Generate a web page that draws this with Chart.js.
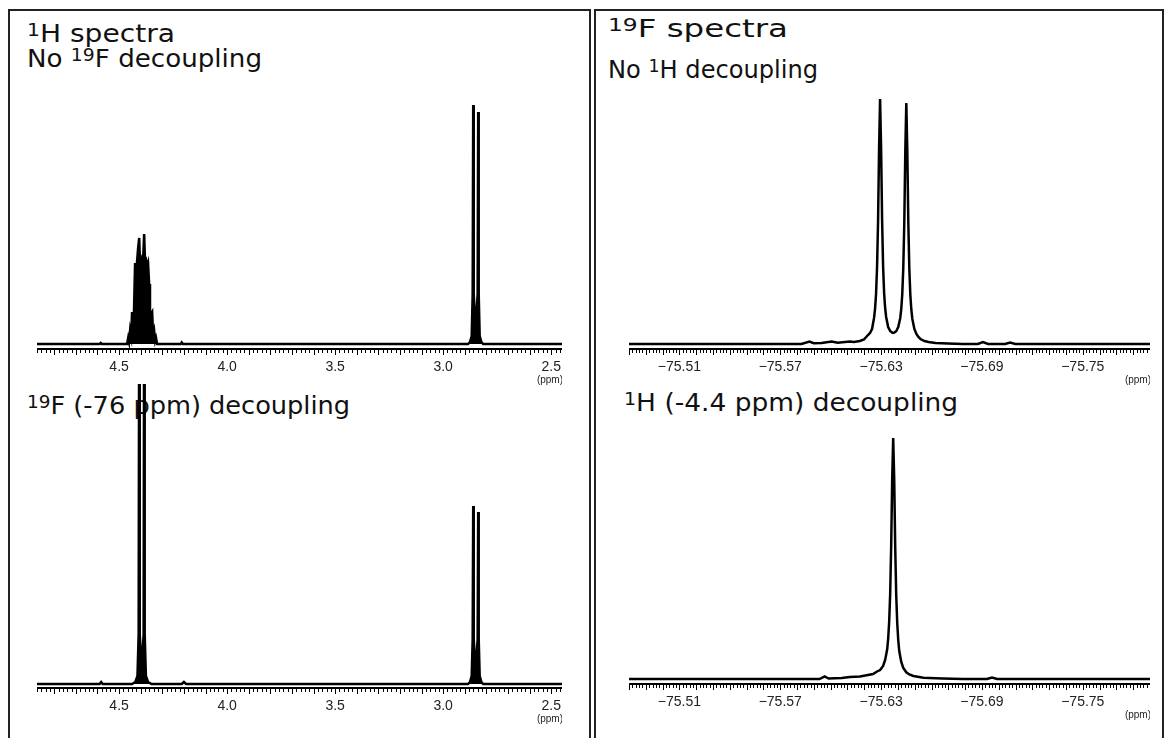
<!DOCTYPE html>
<html>
<head>
<meta charset="utf-8">
<script src="https://cdn.jsdelivr.net/npm/chart.js@4.4.1/dist/chart.umd.min.js"></script>
<style>
  body { margin: 0; background: #fff; width: 1168px; height: 738px; overflow: hidden; position: relative;
         font-family: "DejaVu Sans", sans-serif; }
  .frame { position: absolute; box-sizing: border-box; border: 2px solid #222; border-bottom: none; }
  .lbl { position: absolute; font-size: 24px; line-height: 24px; color: #111; white-space: nowrap; transform-origin: 0 0; }
  .lbl sup { font-size: 0.72em; vertical-align: 0.35em; line-height: 0; }
  canvas { position: absolute; }
</style>
</head>
<body>
<div class="frame" style="left:8px; top:9px; width:583px; height:740px;"></div>
<div class="frame" style="left:594px; top:9px; width:570px; height:740px;"></div>

<div class="lbl" data-w="148" style="left:27px; top:22px;"><sup>1</sup>H spectra</div>
<div class="lbl" data-w="235" style="left:27px; top:47px;">No <sup>19</sup>F decoupling</div>
<div class="lbl" data-w="323" style="left:27px; top:394px;"><sup>19</sup>F (-76 ppm) decoupling</div>
<div class="lbl" data-w="180" style="left:608px; top:17px;"><sup>19</sup>F spectra</div>
<div class="lbl" data-w="210" style="left:608px; top:58px;">No <sup>1</sup>H decoupling</div>
<div class="lbl" data-w="334" style="left:624px; top:391px;"><sup>1</sup>H (-4.4 ppm) decoupling</div>

<canvas id="hCoupled" width="525" height="316" style="left:37px; top:79px;"></canvas>
<canvas id="hDecoupled" width="525" height="350" style="left:37px; top:384px;"></canvas>
<canvas id="fCoupled" width="521" height="316" style="left:629px; top:79px;"></canvas>
<canvas id="fDecoupled" width="521" height="310" style="left:629px; top:420px;"></canvas>

<script>
// 1H spectrum, no 19F decoupling (ppm, height above baseline)
const hCoupledPpm = [4.88, 4.59, 4.585, 4.58, 4.463, 4.458, 4.454, 4.449, 4.444, 4.440, 4.435, 4.431, 4.426, 4.421,
  4.417, 4.412, 4.407, 4.403, 4.398, 4.394, 4.389, 4.384, 4.380, 4.375, 4.370, 4.366, 4.361, 4.357, 4.352, 4.347,
  4.343, 4.338, 4.333, 4.329, 4.324, 4.215, 4.21, 4.205, 2.885, 2.876, 2.868, 2.8635, 2.861, 2.8585, 2.8495,
  2.8405, 2.838, 2.8355, 2.831, 2.823, 2.815, 2.45];
const hCoupledInt = [0, 0, 1, 0, 0, 6, 2, 14, 8, 32, 20, 33, 81, 70,
  82, 96, 106, 80, 84, 78, 84, 110, 82, 84, 78, 81, 60, 32, 30, 32,
  10, 14, 3, 6, 0, 0, 1.5, 0, 0, 2, 8, 50, 239, 50, 14,
  50, 232, 50, 8, 2, 0, 0];

// 1H spectrum, 19F (-76 ppm) decoupled
const hDecPpm = [4.88, 4.59, 4.583, 4.576, 4.44, 4.425, 4.415, 4.4095, 4.407, 4.4045, 4.3955, 4.3865, 4.384, 4.3815,
  4.376, 4.366, 4.35, 4.21, 4.20, 4.19, 2.885, 2.876, 2.868, 2.8635, 2.861, 2.8585, 2.8495, 2.8405, 2.838, 2.8355,
  2.831, 2.823, 2.815, 2.45];
const hDecInt = [0, 0, 2, 0, 0, 2, 8, 50, 420, 50, 14, 50, 420, 50,
  8, 2, 0, 0, 2, 0, 0, 2, 8, 45, 178, 45, 12, 45, 172, 45,
  8, 2, 0, 0];

// 19F spectrum, no 1H decoupling
const fCoupledPpm = [-75.48, -75.5826, -75.5874, -75.5898, -75.5946, -75.6006, -75.6042, -75.6114, -75.6138, -75.6174,
  -75.6198, -75.6222, -75.6234, -75.6246, -75.6258, -75.6264, -75.6270, -75.6276, -75.6282, -75.6288, -75.6294,
  -75.6300, -75.6306, -75.6312, -75.6318, -75.6324, -75.6330, -75.6342, -75.6354, -75.6366, -75.6372, -75.6378,
  -75.6390, -75.6402, -75.6414, -75.6420, -75.6426, -75.6432, -75.6438, -75.6444, -75.6450, -75.6456, -75.6462,
  -75.6468, -75.6474, -75.6480, -75.6486, -75.6498, -75.6510, -75.6522, -75.6534, -75.6558, -75.6582, -75.6624,
  -75.6696, -75.6786, -75.6876, -75.6906, -75.6936, -75.7038, -75.7068, -75.7098, -75.79];
const fCoupledInt = [0, 0, 2.5, 0.8, 1, 2.5, 1.2, 2.5, 2, 3,
  4.5, 9, 11, 15, 26, 35, 50, 77, 123, 196, 245,
  196, 124, 77, 51, 36, 27, 17, 13, 11.4, 11.1, 11.4,
  12.8, 17, 26, 35, 50, 76, 121, 193, 241, 193, 121,
  75, 49, 34, 25, 15, 10, 7, 5, 3, 2, 1,
  0.5, 0, 0, 2, 0, 0, 1.5, 0, 0];

// 19F spectrum, 1H (-4.4 ppm) decoupled
const fDecPpm = [-75.48, -75.5934, -75.5964, -75.5988, -75.6066, -75.6114, -75.6174, -75.6222, -75.6252, -75.6276,
  -75.6294, -75.6312, -75.6324, -75.6336, -75.6342, -75.6348, -75.6354, -75.6360, -75.6366, -75.6372, -75.6378,
  -75.6384, -75.6390, -75.6396, -75.6402, -75.6408, -75.6420, -75.6432, -75.6450, -75.6468, -75.6492, -75.6552,
  -75.6666, -75.6786, -75.6930, -75.6960, -75.6990, -75.79];
const fDecInt = [0, 0, 2.5, 0.5, 1, 2, 2.5, 4, 5, 7.5,
  9, 13, 19, 29.5, 40, 57, 85, 133, 200, 241, 200,
  132, 84, 56, 39, 28, 17, 11, 6.7, 4.5, 3, 1.3,
  0.5, 0, 0, 1.5, 0, 0];

const hTicks = [4.5, 4.0, 3.5, 3.0, 2.5];
const fTicks = [-75.51, -75.57, -75.63, -75.69, -75.75];

// fine comb of tick marks under the axis line, plus the (ppm) unit
function comb(step, majorEvery) {
  return {
    id: 'comb',
    afterDraw(chart) {
      const sx = chart.scales.x, ctx = chart.ctx;
      const lo = Math.min(sx.min, sx.max), hi = Math.max(sx.min, sx.max);
      const first = Math.ceil(lo / step - 1e-9);
      const last = Math.floor(hi / step + 1e-9);
      ctx.save();
      ctx.strokeStyle = '#000';
      ctx.lineWidth = 1;
      ctx.beginPath();
      for (let k = first; k <= last; k++) {
        const px = Math.round(sx.getPixelForValue(k * step)) + 0.5;
        const len = (k % majorEvery === 0) ? 6 : 4;
        ctx.moveTo(px, sx.top);
        ctx.lineTo(px, sx.top + len);
      }
      ctx.stroke();
      ctx.fillStyle = '#222';
      ctx.font = '10px "Liberation Sans"';
      ctx.textAlign = 'right';
      ctx.textBaseline = 'middle';
      ctx.fillText('(ppm)', sx.right + 1, sx.top + 31);
      ctx.restore();
    }
  };
}

function spectrum(id, ppm, inten, o) {
  new Chart(document.getElementById(id), {
    type: 'line',
    data: {
      datasets: [{
        data: ppm.map((p, i) => ({ x: p, y: inten[i] })),
        borderColor: '#000',
        backgroundColor: '#000',
        borderWidth: 2.5,
        fill: o.fill ? 'origin' : false,
        pointRadius: 0,
        tension: 0
      }]
    },
    options: {
      responsive: false,
      animation: false,
      events: [],
      layout: { padding: 0 },
      plugins: { legend: { display: false }, tooltip: { enabled: false } },
      scales: {
        x: {
          type: 'linear',
          reverse: true,
          min: o.min,
          max: o.max,
          afterBuildTicks: s => { s.ticks = o.ticks.map(v => ({ value: v })); },
          afterFit: s => { s.height = 46; s.paddingLeft = 0; s.paddingRight = 0; },
          grid: { display: false, drawTicks: false },
          border: { display: true, color: '#000', width: 2 },
          ticks: {
            padding: 10, color: '#222', autoSkip: false, maxRotation: 0,
            font: { family: 'Liberation Sans', size: 14 },
            callback: o.fmt
          }
        },
        y: { display: false, min: o.ymin, max: o.ymax }
      }
    },
    plugins: [comb(o.step, o.major)]
  });
}

const hFmt = v => v.toFixed(1);
const fFmt = v => '\u2212' + Math.abs(v).toFixed(2);

spectrum('hCoupled', hCoupledPpm, hCoupledInt,
  { fill: true, min: 2.45, max: 4.88, ticks: hTicks, fmt: hFmt, ymin: -5, ymax: 265, step: 0.02, major: 5 });
spectrum('hDecoupled', hDecPpm, hDecInt,
  { fill: true, min: 2.45, max: 4.88, ticks: hTicks, fmt: hFmt, ymin: -4, ymax: 300, step: 0.02, major: 5 });
spectrum('fCoupled', fCoupledPpm, fCoupledInt,
  { fill: false, min: -75.79, max: -75.48, ticks: fTicks, fmt: fFmt, ymin: -5, ymax: 265, step: 0.002, major: 5 });
spectrum('fDecoupled', fDecPpm, fDecInt,
  { fill: false, min: -75.79, max: -75.48, ticks: fTicks, fmt: fFmt, ymin: -5, ymax: 259, step: 0.002, major: 5 });

// stretch each heading to the width it has in the figure
document.querySelectorAll('.lbl').forEach(el => {
  const w = el.getBoundingClientRect().width;
  el.style.transform = 'scaleX(' + (Number(el.dataset.w) / w).toFixed(3) + ')';
});
</script>
</body>
</html>
